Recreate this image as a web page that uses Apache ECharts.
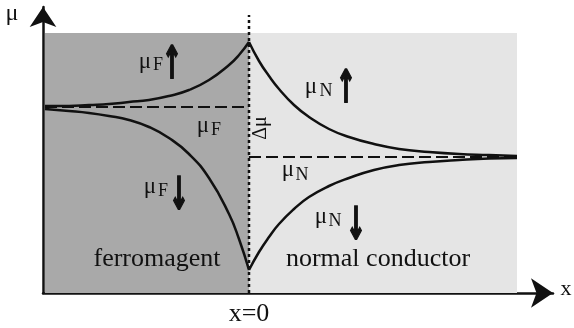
<!DOCTYPE html>
<html><head><meta charset="utf-8">
<script src="https://cdn.jsdelivr.net/npm/echarts@6/dist/echarts.min.js"></script>
<style>html,body{margin:0;padding:0;background:#fff}#c{width:574px;height:328px}</style>
</head><body><div id="c"></div>
<script>
// Positions along x (x=0 is the interface), left = ferromagnet, right = normal conductor
const xLeft = [-204, -180, -160, -140, -120, -100, -80, -60, -40, -20, -10, 0];
const muFup = [187, 187, 188, 189, 191, 193, 197, 203, 213, 228, 238, 251];
const muFdown = [184, 182, 180, 177, 173, 166, 155, 139, 115, 79, 54, 23];
const xRight = [0, 10, 20, 30, 45, 60, 80, 100, 125, 150, 180, 210, 240, 268];
const muNup = [251, 232, 217, 204, 188, 176, 164, 156, 149, 144, 141, 139, 138, 137];
const muNdown = [23, 41, 56, 69, 84, 96, 107, 115, 123, 128, 131, 133, 134.5, 135];
const muF = 186;      // equilibrium level in F
const muN = 136;      // equilibrium level in N
const regionF = [-204, 0];
const regionN = [0, 268];
const regionTop = 260;
const interfaceTop = 278;

const pair = (xs, ys) => xs.map((x, i) => [x, ys[i]]);
const black = '#111';
const serif = '"Liberation Serif", "DejaVu Serif", serif';

const chart = echarts.init(document.getElementById('c'), null, {renderer: 'canvas'});
const axisCommon = {
  type: 'value', axisTick: {show: false}, axisLabel: {show: false}, splitLine: {show: false}
};
const curve = (data) => ({
  type: 'line', data, showSymbol: false, smooth: true, z: 5,
  lineStyle: {color: black, width: 2.5}, silent: true
});
const option = {
  animation: false,
  backgroundColor: '#fff',
  grid: {left: 43, right: 21, top: 7, bottom: 35},
  xAxis: Object.assign({}, axisCommon, {
    min: -206, max: 304,
    axisLine: {show: true, onZero: false, symbol: ['none', 'arrow'], symbolSize: [22, 22],
      lineStyle: {color: black, width: 2.5}}
  }),
  yAxis: Object.assign({}, axisCommon, {
    min: 0, max: 286,
    axisLine: {show: true, onZero: false, symbol: ['none', 'arrow'], symbolSize: [20, 20],
      lineStyle: {color: black, width: 2.5}}
  }),
  series: [
    {
      type: 'line', data: [], z: 1, silent: true,
      markArea: {
        silent: true,
        data: [
          [{xAxis: regionF[0], yAxis: 0, itemStyle: {color: '#a9a9a9'}}, {xAxis: regionF[1], yAxis: regionTop}],
          [{xAxis: regionN[0], yAxis: 0, itemStyle: {color: '#e5e5e5'}}, {xAxis: regionN[1], yAxis: regionTop}]
        ]
      }
    },
    {type: 'line', data: [[regionF[0], muF], [regionF[1], muF]], showSymbol: false, z: 4, silent: true,
      lineStyle: {color: black, width: 2, type: [12, 5]}},
    {type: 'line', data: [[regionN[0], muN], [regionN[1], muN]], showSymbol: false, z: 4, silent: true,
      lineStyle: {color: black, width: 2, type: [12, 5]}},
    {type: 'line', data: [[0, 0], [0, interfaceTop]], showSymbol: false, z: 4, silent: true, clip: false,
      lineStyle: {color: black, width: 2.5, type: [3, 3]}},
    curve(pair(xLeft, muFup)),
    curve(pair(xLeft, muFdown)),
    curve(pair(xRight, muNup)),
    curve(pair(xRight, muNdown))
  ],
  graphic: []
};

function t(text, x, y, size, rotation) {
  return {
    type: 'text', x, y, z: 100, rotation: rotation || 0,
    style: {text, fontFamily: serif, fontSize: size, fill: black, align: 'center', verticalAlign: 'middle'}
  };
}
function arrow(ch, x, y) {
  return {type: 'text', x, y, z: 100, scaleX: 0.8, scaleY: 1.5,
    style: {text: ch, fontFamily: '"DejaVu Sans", sans-serif', fontWeight: 'bold', fontSize: 30,
      fill: black, stroke: black, lineWidth: 1.2, align: 'center', verticalAlign: 'middle'}};
}
option.graphic = [
  t('μ', 12, 14, 24),
  t('x', 566, 289, 22),
  t('x=0', 249, 314, 26),
  t('ferromagent', 157, 259, 26),
  t('normal conductor', 378, 259, 26),
  t('μ', 145, 62, 23), t('F', 158, 65, 18), arrow('↑', 172, 66),
  t('μ', 203, 126, 23), t('F', 216, 130, 18),
  t('μ', 150, 187, 23), t('F', 163, 191, 18), arrow('↓', 179, 197),
  t('μ', 311, 87, 23), t('N', 326, 91, 18), arrow('↑', 346, 90),
  t('μ', 288, 170, 23), t('N', 302, 175, 18),
  t('μ', 321, 217, 23), t('N', 335, 221, 18), arrow('↓', 356, 227),
  t('Δμ', 261, 128, 20, Math.PI / 2)
];
chart.setOption(option);
</script></body></html>
